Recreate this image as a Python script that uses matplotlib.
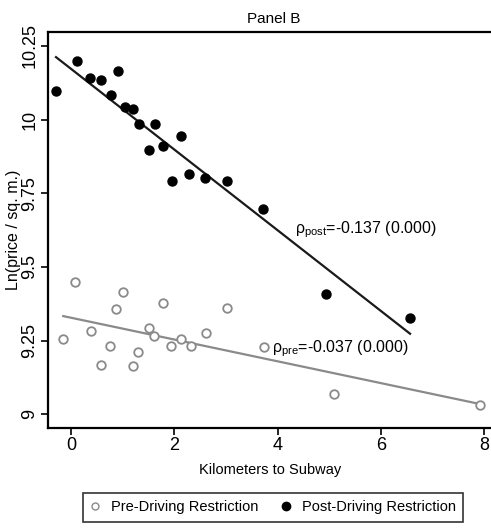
import numpy as np
import matplotlib
matplotlib.use("Agg")
import matplotlib.pyplot as plt
from matplotlib.lines import Line2D

fam = "Liberation Sans"
plt.rcParams['font.family'] = [fam, 'DejaVu Sans']
plt.rcParams['mathtext.fontset'] = 'custom'
plt.rcParams['mathtext.rm'] = fam
plt.rcParams['mathtext.it'] = fam

# pre-driving restriction (open grey circles)
pre_km = [-0.15, 0.08, 0.38, 0.58, 0.75, 0.88, 1.01, 1.19, 1.30, 1.51, 1.61,
          1.78, 1.93, 2.12, 2.33, 2.62, 3.02, 3.73, 5.09, 7.91]
pre_lnp = [9.257, 9.450, 9.283, 9.168, 9.232, 9.356, 9.415, 9.163, 9.213, 9.292,
           9.267, 9.377, 9.232, 9.257, 9.232, 9.277, 9.361, 9.227, 9.070, 9.031]

# post-driving restriction (black dots)
post_km = [-0.29, 0.12, 0.36, 0.59, 0.77, 0.90, 1.04, 1.19, 1.32, 1.50, 1.62,
           1.78, 1.95, 2.12, 2.29, 2.60, 3.02, 3.72, 4.93, 6.56]
post_lnp = [10.098, 10.199, 10.142, 10.133, 10.082, 10.165, 10.044, 10.035, 9.985,
            9.896, 9.984, 9.910, 9.792, 9.945, 9.816, 9.801, 9.793, 9.696, 9.408, 9.326]

# fitted lines (intercept, slope)
pre_fit = (9.3276, -0.037)
post_fit = (10.172, -0.137)

fig = plt.figure(figsize=(4.91, 5.30), dpi=100)
# right part of the plot box is cut off in the original
ax = fig.add_axes([48/491, 1-427.7/530, 452/491, (427.7-31.7)/530])

xp = np.array([min(pre_km), max(pre_km)])
ax.plot(xp, pre_fit[0] + pre_fit[1]*xp, color='#8a8a8a', lw=1.6, zorder=2)
xq = np.array([min(post_km), max(post_km)])
ax.plot(xq, post_fit[0] + post_fit[1]*xq, color='#1a1a1a', lw=1.6, zorder=2)

ax.scatter(pre_km, pre_lnp, s=38, facecolors='white', edgecolors='#8a8a8a',
           linewidths=1.3, zorder=3)
ax.scatter(post_km, post_lnp, s=42, color='black', zorder=3)

ax.text(3.89, 9.211, r'$\rho_{\mathrm{pre}}$=-0.037 (0.000)', fontsize=11.5,
        va='baseline', ha='left')
ax.text(4.33, 9.615, r'$\rho_{\mathrm{post}}$=-0.137 (0.000)', fontsize=11.5,
        va='baseline', ha='left')

ax.set_xlim(-0.445, 8.3)
ax.set_ylim(8.9545, 10.298)
ax.set_xticks([0, 2, 4, 6, 8])
ax.set_yticks([9, 9.25, 9.5, 9.75, 10, 10.25])
ax.set_yticklabels(['9', '9.25', '9.5', '9.75', '10', '10.25'], rotation=90, va='center')
ax.tick_params(direction='out', length=5, width=1.2, labelsize=13, pad=2)
for s in ax.spines.values():
    s.set_linewidth(1.6)
ax.spines['right'].set_visible(False)

ax.set_title('Panel B', fontsize=11, pad=6)
ax.set_xlabel('Kilometers to Subway', fontsize=10.5)
ax.xaxis.set_label_coords((270-48)/452, -0.088)
fig.text(14/491, 1-230/530, 'Ln(price / sq. m.)', fontsize=11.5, rotation=90,
         ha='center', va='center')

handles = [Line2D([], [], ls='', marker='o', ms=5, mfc='white', mec='#8a8a8a', mew=1),
           Line2D([], [], ls='', marker='o', ms=6, color='black')]
leg = fig.legend(handles, ['Pre-Driving Restriction', 'Post-Driving Restriction'],
                 loc='upper left', bbox_to_anchor=(83/491, 1-493/530), ncol=2,
                 fontsize=10.5, frameon=True, fancybox=False, edgecolor='black',
                 handlelength=0.6, handletextpad=0.8, columnspacing=1.6,
                 borderpad=0.5, borderaxespad=0)
leg.get_frame().set_linewidth(1.2)

fig.savefig('out.png', dpi=100)
